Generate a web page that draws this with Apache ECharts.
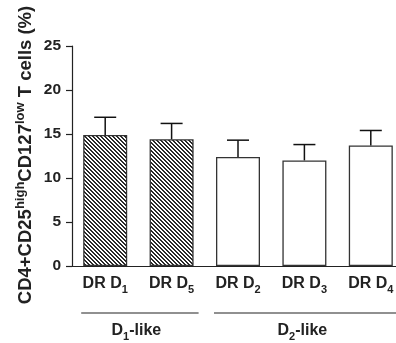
<!DOCTYPE html>
<html>
<head>
<meta charset="utf-8">
<script src="https://cdn.jsdelivr.net/npm/echarts@6/dist/echarts.min.js"></script>
<style>
  html, body { margin: 0; padding: 0; background: #fff; overflow: hidden; }
  #chart { width: 412px; height: 343px; }
</style>
</head>
<body>
<div id="chart"></div>
<script>
// Treg frequency per donor–recipient group
const categories = ['DR D{s|1}', 'DR D{s|5}', 'DR D{s|2}', 'DR D{s|3}', 'DR D{s|4}'];
const means = [14.9, 14.4, 12.4, 12.0, 13.7];
const sem = [2.0, 1.8, 1.9, 1.8, 1.7];
const hatched = [true, true, false, false, false];
const yTicks = [0, 5, 10, 15, 20, 25];
const yTitle = 'CD4+CD25{p|high}CD127{p|low} T cells (%)';
// groups: label + first/last category index
const groupLabels = ['D{s|1}-like', 'D{s|2}-like'];
const groupRanges = [[0, 1], [2, 4]];

const FONT = '"Liberation Sans", Arial, Helvetica, sans-serif';
const INK = '#222';

// diagonal hatch tile
function hatchPattern() {
  const c = document.createElement('canvas');
  c.width = 4; c.height = 4;
  const g = c.getContext('2d');
  g.fillStyle = '#fff';
  g.fillRect(0, 0, 4, 4);
  g.fillStyle = '#2a2a2a';
  for (let i = 0; i < 4; i++) {
    g.fillRect(i, i, 1, 1);
    g.fillRect((i + 1) % 4, i, 1, 1);
  }
  return { image: c, repeat: 'repeat' };
}
const hatch = hatchPattern();

const subRich = {
  s: { fontSize: 11, fontWeight: 'bold', fontFamily: FONT, color: INK, verticalAlign: 'bottom', lineHeight: 22 }
};

const chart = echarts.init(document.getElementById('chart'), null, { renderer: 'canvas' });

const option = {
  animation: false,
  backgroundColor: '#fff',
  grid: { left: 72, top: 46, height: 220, width: 332, containLabel: false },
  xAxis: {
    type: 'category',
    data: categories,
    boundaryGap: true,
    axisLine: { lineStyle: { color: INK, width: 1.2 } },
    axisTick: { alignWithLabel: true, length: 6, lineStyle: { color: INK, width: 1.2 } },
    axisLabel: {
      interval: 0,
      margin: 7,
      color: INK,
      fontSize: 16,
      fontWeight: 'bold',
      fontFamily: FONT,
      lineHeight: 22,
      rich: subRich
    }
  },
  yAxis: {
    type: 'value',
    min: yTicks[0],
    max: yTicks[yTicks.length - 1],
    interval: yTicks[1] - yTicks[0],
    splitLine: { show: false },
    axisLine: { show: true, lineStyle: { color: INK, width: 1.2 } },
    axisTick: { show: true, length: 6, lineStyle: { color: INK, width: 1.2 } },
    axisLabel: { margin: 11, color: INK, fontSize: 15.5, fontWeight: 'bold', fontFamily: FONT }
  },
  series: [
    {
      type: 'bar',
      barWidth: 44,
      data: means.map((v, i) => ({
        value: v,
        itemStyle: {
          color: hatched[i] ? hatch : '#fff',
          borderColor: '#333',
          borderWidth: 1.3
        }
      })),
      z: 2
    },
    {
      // upward error bars (mean + SEM) with a cap
      type: 'custom',
      z: 3,
      data: means.map((v, i) => [i, v, v + sem[i]]),
      renderItem: function (params, api) {
        const x = api.value(0);
        const p0 = api.coord([x, api.value(1)]);
        const p1 = api.coord([x, api.value(2)]);
        const half = 11;
        const st = { stroke: '#111', lineWidth: 1.5 };
        return {
          type: 'group',
          children: [
            { type: 'line', shape: { x1: p0[0], y1: p0[1], x2: p1[0], y2: p1[1] }, style: st },
            { type: 'line', shape: { x1: p1[0] - half, y1: p1[1], x2: p1[0] + half, y2: p1[1] }, style: st }
          ]
        };
      }
    }
  ]
};

chart.setOption(option);

// axis title and group brackets, placed from the axis scales
function drawAnnotations() {
  const elements = [];
  const yMid = chart.convertToPixel({ yAxisIndex: 0 }, (yTicks[0] + yTicks[yTicks.length - 1]) / 2);
  elements.push({
    type: 'text',
    x: 26,
    y: yMid - 1,
    rotation: Math.PI / 2,
    style: {
      text: yTitle,
      fill: INK,
      font: 'bold 18.5px ' + FONT,
      align: 'center',
      verticalAlign: 'middle',
      lineHeight: 24,
      rich: {
        p: { fontSize: 13, fontWeight: 'bold', fontFamily: FONT, fill: INK, verticalAlign: 'top', lineHeight: 24 }
      }
    },
    silent: true
  });
  const lineY = 313;
  const textY = 331;
  groupRanges.forEach((r, gi) => {
    const a = chart.convertToPixel({ xAxisIndex: 0 }, r[0]);
    const b = chart.convertToPixel({ xAxisIndex: 0 }, r[1]);
    const left = a - 24;
    const right = b + 27;
    elements.push({
      type: 'line',
      shape: { x1: left, y1: lineY, x2: right, y2: lineY },
      style: { stroke: INK, lineWidth: 1.2 },
      silent: true
    });
    elements.push({
      type: 'text',
      x: (a + b) / 2 - 2,
      y: textY,
      style: {
        text: groupLabels[gi],
        fill: INK,
        font: 'bold 16px ' + FONT,
        align: 'center',
        verticalAlign: 'middle',
        lineHeight: 22,
        rich: subRich
      },
      silent: true
    });
  });
  chart.setOption({ graphic: { elements: elements } });
}
drawAnnotations();
</script>
</body>
</html>
